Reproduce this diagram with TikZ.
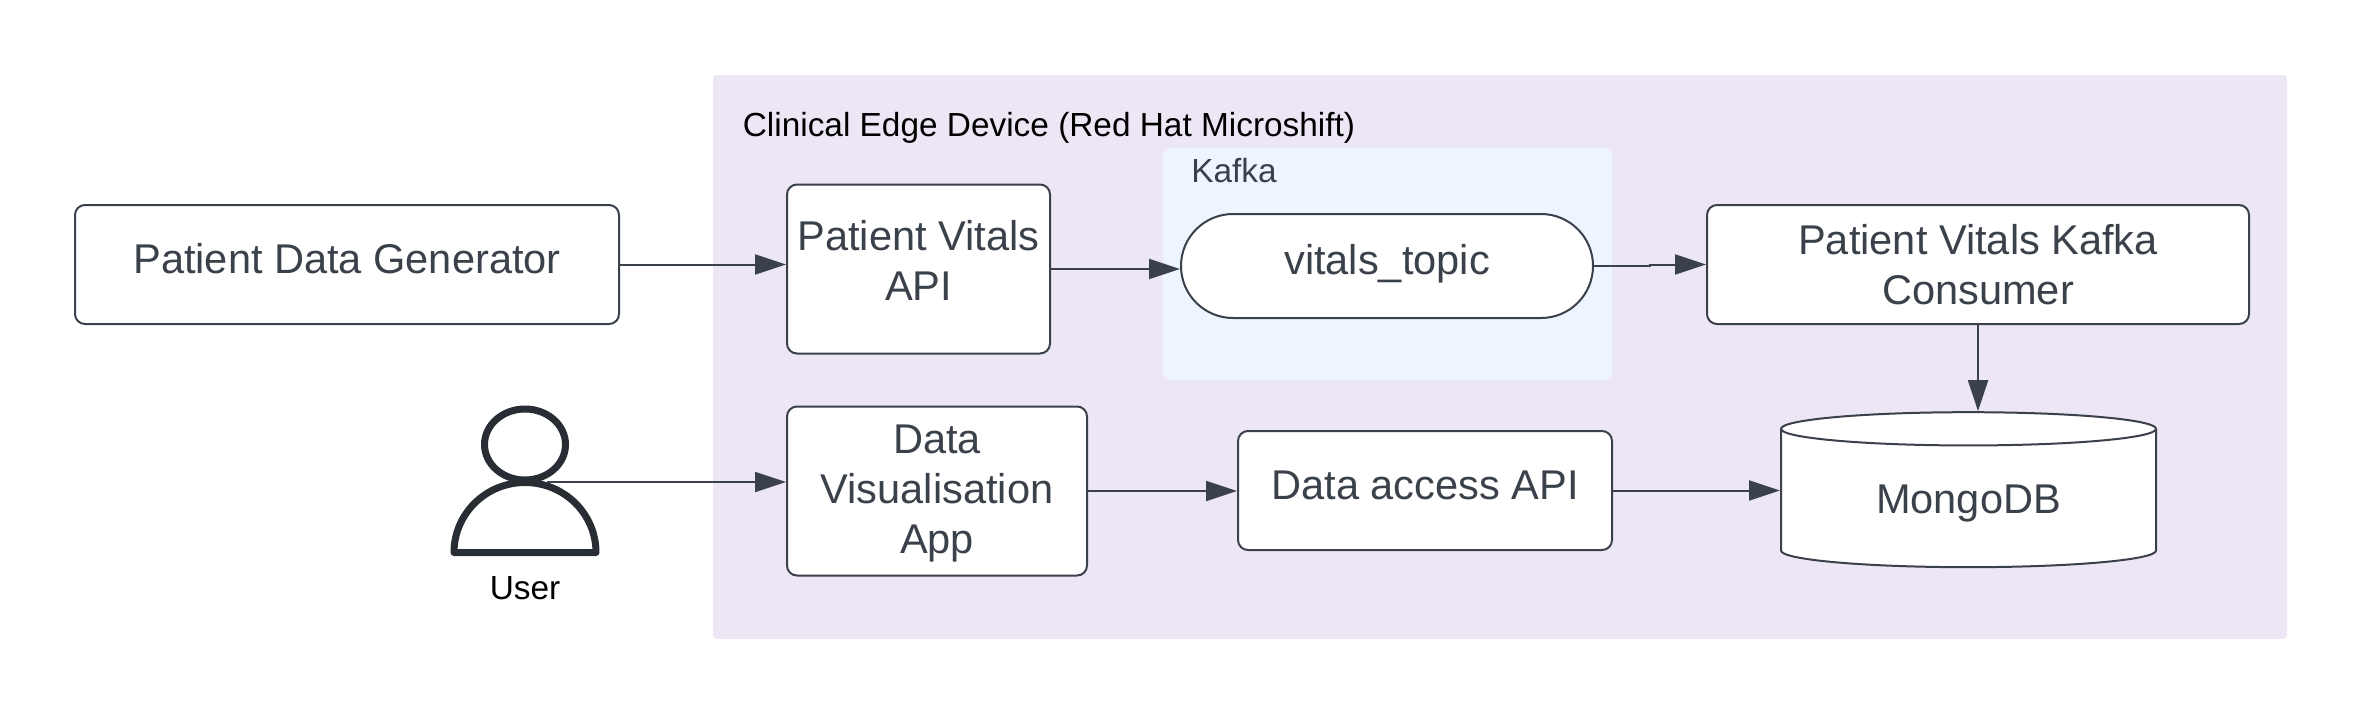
\documentclass[tikz,border=0pt]{standalone}
\usepackage{fontspec}
\setmainfont{Liberation Sans}
\usetikzlibrary{arrows.meta,shapes.geometric}
\definecolor{inkgray}{HTML}{3A414A}
\definecolor{usercol}{HTML}{282C33}
\definecolor{edgefill}{HTML}{EDE6F5}
\definecolor{kafkafill}{HTML}{EDF5FF}
\tikzset{
    boxnode/.style={draw=inkgray,fill=white,line width=0.04cm,rounded corners=0.2cm,align=center,text=inkgray,
        inner sep=0pt,font=\fontsize{23.65}{28.45}\selectfont},
    drop/.style={text height=#1,text depth=0pt},
    titlenode/.style={anchor=base west,inner sep=0pt,font=\fontsize{19}{22}\selectfont},
    flow/.style={draw=inkgray,line width=0.04cm,-{Triangle[length=0.62cm,width=0.4cm]}},
    usericon/.style={draw=usercol,line width=0.14cm,line join=round}
}
\begin{document}
\begin{tikzpicture}
    \useasboundingbox (0,0) rectangle (47.26,-14.26);
    \node (edge) [fill=edgefill,rounded corners=0.08cm,minimum width=31.48cm,minimum height=11.28cm,inner sep=0pt] at (30,-7.14) {};
    \node (edgetitle) [titlenode] at (14.85,-2.72) {Clinical Edge Device (Red Hat Microshift)};
    \node (kafka) [fill=kafkafill,rounded corners=0.16cm,minimum width=8.98cm,minimum height=4.64cm,inner sep=0pt] at (27.75,-5.28) {};
    \node (kafkatitle) [titlenode,text=inkgray] at (23.82,-3.64) {Kafka};

    \node (generator) [boxnode,drop=0.36cm,minimum width=10.88cm,minimum height=2.38cm] at (6.94,-5.29) {Patient Data Generator};
    \node (vitalsapi) [boxnode,drop=1.26cm,minimum width=5.26cm,minimum height=3.38cm] at (18.37,-5.38) {Patient Vitals\\API};
    \node (topic) [boxnode,drop=0.32cm,rounded corners=1.04cm,minimum width=8.24cm,minimum height=2.08cm] at (27.74,-5.32) {vitals\_topic};
    \node (consumer) [boxnode,drop=1.58cm,minimum width=10.84cm,minimum height=2.38cm] at (39.56,-5.29) {Patient Vitals Kafka\\Consumer};
    \node (visapp) [boxnode,drop=2.5cm,minimum width=6cm,minimum height=3.38cm] at (18.74,-9.82) {Data\\Visualisation\\App};
    \node (accessapi) [boxnode,drop=0.34cm,minimum width=7.48cm,minimum height=2.38cm] at (28.5,-9.81) {Data access API};
    \node (mongo) [boxnode,rounded corners=0pt,shape=cylinder,shape border rotate=90,shape aspect=0.18,drop=0.6cm,minimum width=7.5cm,minimum height=3.1cm] at (39.37,-9.97) {MongoDB};

    % user icon
    \node (userhead) [usericon,shape=ellipse,minimum width=1.62cm,minimum height=1.42cm,inner sep=0pt] at (10.5,-8.89) {};
    \draw[usericon] (9.08,-11.05) arc[start angle=180,end angle=0,x radius=1.42,y radius=1.4] -- cycle;
    \node (usertitle) [titlenode,anchor=base] at (10.5,-11.98) {User};
    \coordinate (userneck) at (10.94,-9.64);

    \draw[flow] (generator.east) -- (generator.east -| vitalsapi.west);
    \draw[flow] (vitalsapi.east) -- (vitalsapi.east -| topic.west);
    \draw[flow] (topic.east) -- ++(1.12,0) |- (consumer.west);
    \draw[flow] (userneck) -- (userneck -| visapp.west);
    \draw[flow] (visapp.east) -- (visapp.east -| accessapi.west);
    \draw[flow] (accessapi.east) -- (accessapi.east -| mongo.west);
    \draw[flow] (consumer.south) -- (consumer.south |- mongo.north);
\end{tikzpicture}
\end{document}
